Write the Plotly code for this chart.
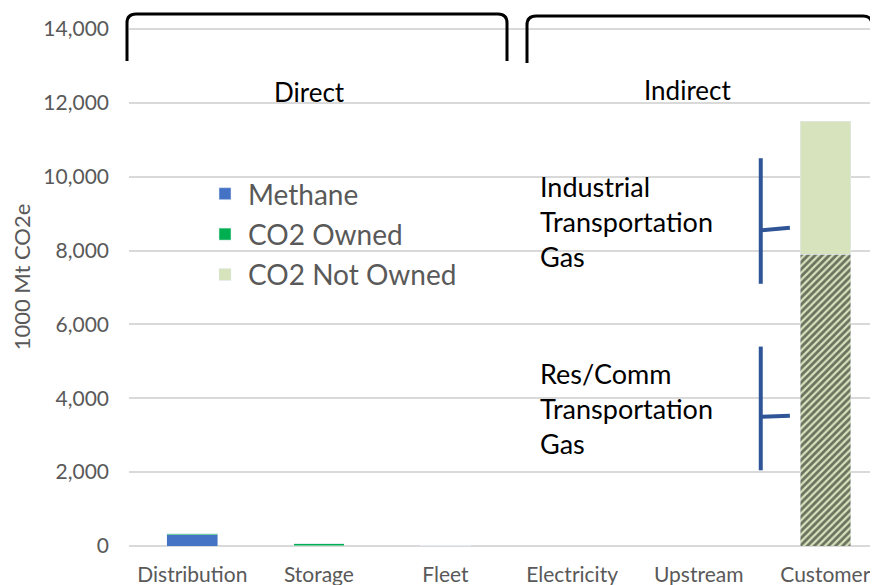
import plotly.graph_objects as go

# values (1000 Mt CO2e)
categories = ["Distribution", "Storage", "Fleet", "Electricity", "Upstream", "Customer"]
methane = [310, 10, 0, 0, 0, 0]
co2_owned = [30, 50, 5, 0, 0, 0]
co2_not_owned_transport = [0, 0, 0, 0, 0, 7900]
co2_not_owned = [0, 0, 0, 0, 0, 3600]
y_ticks = [0, 2000, 4000, 6000, 8000, 10000, 12000, 14000]

FONT = "Lato, Calibri, sans-serif"
GREY = "#595959"
LIGHT_GREEN = "#D6E3BC"
BLUE_LINE = "#2F5597"

# the page body adds an 8px margin, so the figure is sized to fit the window
OFF = 8
W, H = 878 - OFF, 585 - OFF
X0, X1 = 129, 878      # plot area left/right in window pixels
Y0 = 546               # zero line in window pixels
ML, MB = X0 - OFF, H - (Y0 - OFF)
PW, PH = X1 - X0, Y0 - OFF


def px(x):
    return (x - X0) / PW


def py(y):
    return (Y0 - y) / PH


fig = go.Figure()
fig.add_trace(go.Bar(x=categories, y=methane, name="Methane", marker_color="#4472C4",
                     width=0.4, legendgroup="a"))
fig.add_trace(go.Bar(x=categories, y=co2_owned, name="CO2 Owned", marker_color="#00B050",
                     width=0.4, legendgroup="b"))
fig.add_trace(go.Bar(x=categories, y=co2_not_owned_transport, name="CO2 Not Owned",
                     marker=dict(color=LIGHT_GREEN,
                                 pattern=dict(shape="/", fgcolor="black", bgcolor=LIGHT_GREEN,
                                              size=5, solidity=0.55)),
                     width=0.4, showlegend=False, legendgroup="c"))
fig.add_trace(go.Bar(x=categories, y=co2_not_owned, name="CO2 Not Owned", marker_color=LIGHT_GREEN,
                     width=0.4, legendgroup="c"))


def bracket(x0, x1, top, bottom, r=9):
    # rounded top bracket, window pixels converted to paper
    return ("M {a},{b} L {a},{c} Q {a},{d} {e},{d} L {f},{d} Q {g},{d} {g},{c} L {g},{h}".format(
        a=px(x0), b=py(bottom), c=py(top + r), d=py(top), e=px(x0 + r),
        f=px(x1 - r), g=px(x1), h=py(bottom)))


shapes = [
    dict(type="path", xref="paper", yref="paper", path=bracket(127, 507, 14, 61),
         line=dict(color="black", width=3)),
    dict(type="path", xref="paper", yref="paper", path=bracket(527, 872, 16, 63),
         line=dict(color="black", width=3)),
    # side braces for the customer bar
    dict(type="line", xref="x", yref="y", x0=4.49, x1=4.49, y0=7100, y1=10500,
         line=dict(color=BLUE_LINE, width=4)),
    dict(type="line", xref="x", yref="y", x0=4.49, x1=4.72, y0=8550, y1=8620,
         line=dict(color=BLUE_LINE, width=4)),
    dict(type="line", xref="x", yref="y", x0=4.49, x1=4.49, y0=2050, y1=5400,
         line=dict(color=BLUE_LINE, width=4)),
    dict(type="line", xref="x", yref="y", x0=4.49, x1=4.72, y0=3500, y1=3530,
         line=dict(color=BLUE_LINE, width=4)),
]

annotations = [
    dict(text="Direct", xref="paper", yref="paper", x=px(309), y=py(92), showarrow=False,
         xanchor="center", yanchor="middle", font=dict(size=26, color="black")),
    dict(text="Indirect", xref="paper", yref="paper", x=px(687), y=py(90), showarrow=False,
         xanchor="center", yanchor="middle", font=dict(size=26, color="black")),
    dict(text="Industrial<br>Transportation<br>Gas", xref="paper", yref="paper",
         x=px(538), y=py(222), xanchor="left", yanchor="middle", align="left", showarrow=False,
         font=dict(size=27, color="black")),
    dict(text="Res/Comm<br>Transportation<br>Gas", xref="paper", yref="paper",
         x=px(538), y=py(408), xanchor="left", yanchor="middle", align="left", showarrow=False,
         font=dict(size=27, color="black")),
]

fig.update_layout(
    width=W, height=H,
    barmode="stack",
    margin=dict(l=ML, r=0, t=0, b=MB, autoexpand=False),
    plot_bgcolor="white", paper_bgcolor="white",
    font=dict(family=FONT, color=GREY, size=18),
    shapes=shapes,
    annotations=annotations,
    legend=dict(x=px(202), y=py(169), xanchor="left", yanchor="top",
                font=dict(size=28, color=GREY), tracegroupgap=1,
                bgcolor="rgba(0,0,0,0)", itemwidth=36),
)
fig.update_xaxes(range=[-0.5, 5.416], showgrid=False, showline=False, ticks="",
                 automargin=False, ticklabelstandoff=14,
                 tickfont=dict(size=21, color=GREY))
fig.update_yaxes(range=[0, 14000 * PH / (Y0 - 29)], tickvals=y_ticks, tickformat=",",
                 showgrid=True, gridcolor="#D9D9D9", gridwidth=1.5,
                 zeroline=True, zerolinecolor="#D9D9D9", zerolinewidth=1.5,
                 automargin=False, ticklabelstandoff=19,
                 tickfont=dict(size=21, color=GREY),
                 title=dict(text="1000 Mt CO2e", font=dict(size=22, color=GREY), standoff=12))

fig.write_html("out.html")
